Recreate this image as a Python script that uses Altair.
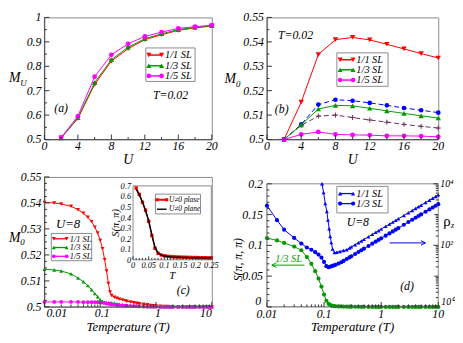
import altair as alt
import pandas as pd

FONT = "Liberation Serif"
RED = "#ff0000"
GREEN = "#009a00"
MAGENTA = "#ff00ff"
BLUE = "#0000ff"
PURPLE = "#6e2c5e"
FRAME = "#8a8a8a"
AXC = "#555555"
TICKC = "#333333"

W1, W2 = 170, 174
H1, H2 = 124, 132
D_TOP = 7

# ---------------- data: panels (a) and (b), T = 0.02 ----------------
SERIES_NAMES = ["1/1 SL", "1/3 SL", "1/5 SL"]
U_VALUES = [2, 4, 6, 8, 10, 12, 14, 16, 18, 20]
MU_11 = [0.507, 0.586, 0.726, 0.821, 0.872, 0.909, 0.929, 0.947, 0.957, 0.965]
MU_13 = [0.507, 0.589, 0.733, 0.827, 0.878, 0.913, 0.933, 0.950, 0.959, 0.966]
MU_15 = [0.508, 0.596, 0.757, 0.847, 0.892, 0.922, 0.940, 0.955, 0.962, 0.968]
M0B_11 = [0.5, 0.5153, 0.5348, 0.5409, 0.5418, 0.5408, 0.5390, 0.5371, 0.5352, 0.5334]
M0B_13 = [0.5, 0.5060, 0.5125, 0.5140, 0.5138, 0.5128, 0.5117, 0.5107, 0.5097, 0.5088]
M0B_15 = [0.5, 0.5021, 0.5031, 0.5021, 0.5019, 0.5018, 0.5015, 0.5015, 0.5014, 0.5011]
M0B_BLUE = [0.5, 0.5062, 0.5143, 0.5163, 0.5159, 0.5150, 0.5140, 0.5129, 0.5120, 0.5110]
M0B_PURPLE = [0.5, 0.5058, 0.5096, 0.5100, 0.5090, 0.5080, 0.5071, 0.5062, 0.5054, 0.5047]

# ---------------- data: panels (c) and (d), U = 8 ----------------
T_GRID = [0.01, 0.015, 0.02, 0.03, 0.04, 0.05, 0.06, 0.07, 0.08, 0.09,
          0.1, 0.11, 0.12, 0.13, 0.14, 0.15, 0.16,
          0.18, 0.2, 0.22, 0.25, 0.28, 0.3, 0.35, 0.4, 0.45, 0.5,
          0.6, 0.7, 0.8, 0.9, 1.0,
          1.2, 1.4, 1.6, 1.8, 2.0,
          2.5, 3.0, 3.5, 4.0, 4.5, 5.0,
          6.0, 7.0, 8.0, 9.0, 10.0]
M0C_11 = [0.5402, 0.5400, 0.5396, 0.5387, 0.5374, 0.5360, 0.5345, 0.5328, 0.5307, 0.5284,
          0.5256, 0.5224, 0.5182, 0.5138, 0.5090, 0.5057, 0.5044,
          0.5037, 0.5033, 0.5030, 0.5027, 0.5024, 0.5022, 0.5019, 0.5016, 0.5014, 0.5012,
          0.5010, 0.5008, 0.5006, 0.5005, 0.5004,
          0.5003, 0.5002, 0.5002, 0.5001, 0.5001,
          0.5001, 0.5, 0.5, 0.5, 0.5, 0.5,
          0.5, 0.5, 0.5, 0.5, 0.5]
M0C_13 = [0.5145, 0.5142, 0.5138, 0.5127, 0.5111, 0.5097, 0.5082, 0.5066, 0.5051, 0.5039,
          0.5027, 0.5021, 0.5018, 0.5017, 0.5016, 0.5016, 0.5015,
          0.5014, 0.5012, 0.5010, 0.5008, 0.5006, 0.5005, 0.5004, 0.5003, 0.5002, 0.5002,
          0.5001, 0.5001, 0.5001, 0.5001, 0.5001,
          0.5, 0.5, 0.5, 0.5, 0.5,
          0.5, 0.5, 0.5, 0.5, 0.5, 0.5,
          0.5, 0.5, 0.5, 0.5, 0.5]
M0C_15 = [0.5019, 0.5019, 0.5019, 0.5019, 0.5019, 0.5018, 0.5018, 0.5018, 0.5018, 0.5018,
          0.5017, 0.5016, 0.5015, 0.5013, 0.5012, 0.5011, 0.5010,
          0.5009, 0.5008, 0.5007, 0.5006, 0.5005, 0.5005, 0.5004, 0.5003, 0.5003, 0.5002,
          0.5002, 0.5001, 0.5001, 0.5001, 0.5001,
          0.5, 0.5, 0.5, 0.5, 0.5,
          0.5, 0.5, 0.5, 0.5, 0.5, 0.5,
          0.5, 0.5, 0.5, 0.5, 0.5]
S_13 = [0.112, 0.108, 0.104, 0.098, 0.092, 0.081, 0.070, 0.058, 0.046, 0.033,
        0.020, 0.010, 0.005, 0.0028, 0.0018, 0.0013, 0.0010,
        0.0008, 0.0006, 0.0005, 0.0004, 0.0003, 0.0003, 0.0002, 0.0002, 0.0001, 0.0001,
        0.0, 0.0, 0.0, 0.0, 0.0,
        0.0, 0.0, 0.0, 0.0, 0.0,
        0.0, 0.0, 0.0, 0.0, 0.0, 0.0,
        0.0, 0.0, 0.0, 0.0, 0.0]
RHO_13 = [1950, 660, 324, 174, 115, 85, 72, 60, 50, 40,
          29, 21, 19.5, 20.4, 21.4, 22.4, 23.4,
          25.7, 28.2, 31.3, 36.1, 40.9, 44.2, 52.5, 61, 69.5, 78.2,
          95.5, 113.5, 132, 150, 169,
          207, 245, 284, 324, 365,
          468, 573, 680, 789, 898, 1011,
          1237, 1469, 1703, 1941, 2188]
T_11 = [0.092, 0.098, 0.105, 0.112, 0.117, 0.123, 0.128, 0.134, 0.141, 0.152,
        0.167, 0.19, 0.218, 0.25,
        0.28, 0.3, 0.35, 0.4, 0.45, 0.5,
        0.6, 0.7, 0.8, 0.9, 1.0,
        1.2, 1.4, 1.6, 1.8, 2.0,
        2.5, 3.0, 3.5, 4.0, 4.5, 5.0,
        6.0, 7.0, 8.0, 9.0, 10.0]
RHO_11 = [10000, 5250, 2290, 1260, 660, 347, 195, 123, 76, 58,
          60, 63, 68, 72,
          82, 89, 105, 122, 139, 156,
          191, 227, 264, 300, 338,
          414, 491, 569, 649, 729,
          933, 1145, 1358, 1577, 1795, 2018,
          2472, 2931, 3397, 3873, 4365]

# inset of (c)
INSET_NAMES = ["U\u22600 plase", "U\u22600 plane"]
T_IN = [0.01, 0.02, 0.03, 0.04, 0.05, 0.06, 0.07, 0.08, 0.09, 0.1,
        0.11, 0.12, 0.13, 0.14, 0.15, 0.16, 0.17, 0.18, 0.19, 0.2,
        0.21, 0.22, 0.23, 0.24, 0.25]
S_IN_A = [0.68, 0.62, 0.545, 0.47, 0.365, 0.23, 0.11, 0.062, 0.046, 0.038,
          0.034, 0.031, 0.029, 0.027, 0.026, 0.025, 0.024, 0.023, 0.022, 0.022,
          0.021, 0.020, 0.020, 0.019, 0.019]
S_IN_B = [0.67, 0.615, 0.55, 0.465, 0.37, 0.24, 0.12, 0.065, 0.045, 0.036,
          0.031, 0.028, 0.026, 0.025, 0.024, 0.023, 0.022, 0.021, 0.021, 0.020,
          0.020, 0.019, 0.019, 0.018, 0.018]

# ---------------- tick positions / labels ----------------
U_TICKS = [0, 4, 8, 12, 16, 20]
U_MINOR = [2, 6, 10, 14, 18]
A_Y_TICKS = [0.5, 0.6, 0.7, 0.8, 0.9, 1.0]
A_Y_MINOR = [0.55, 0.65, 0.75, 0.85, 0.95]
M0_TICKS = [0.5, 0.51, 0.52, 0.53, 0.54, 0.55]
M0_MINOR_B = [0.505, 0.515, 0.525, 0.535, 0.545]
M0_MINOR_C = [0.5025, 0.505, 0.5075, 0.5125, 0.515, 0.5175, 0.5225, 0.525, 0.5275,
              0.5325, 0.535, 0.5375, 0.5425, 0.545, 0.5475]
LOG_TICKS = [0.01, 0.1, 1, 10]
LOG_MINOR = [0.02, 0.03, 0.04, 0.05, 0.06, 0.07, 0.08, 0.09,
             0.2, 0.3, 0.4, 0.5, 0.6, 0.7, 0.8, 0.9,
             2, 3, 4, 5, 6, 7, 8, 9]
S_TICKS = [0, 0.05, 0.1, 0.15, 0.2]
S_MINOR = [0.01, 0.02, 0.03, 0.04, 0.06, 0.07, 0.08, 0.09, 0.11, 0.12, 0.13, 0.14,
           0.16, 0.17, 0.18, 0.19]
RHO_TICKS = [1, 100, 10000]
RHO_LABELS = ["10\u2070", "10\u00b2", "10\u2074"]
RHO_MID = [10, 1000]
RHO_MINOR = [2, 3, 4, 5, 6, 7, 8, 9, 20, 30, 40, 50, 60, 70, 80, 90,
             200, 300, 400, 500, 600, 700, 800, 900,
             2000, 3000, 4000, 5000, 6000, 7000, 8000, 9000]
IN_X_TICKS = [0, 0.05, 0.1, 0.15, 0.2, 0.25]
IN_X_MINOR = [0.01, 0.02, 0.03, 0.04, 0.06, 0.07, 0.08, 0.09, 0.11, 0.12, 0.13, 0.14,
              0.16, 0.17, 0.18, 0.19, 0.21, 0.22, 0.23, 0.24]
IN_Y_TICKS = [0, 0.1, 0.2, 0.3, 0.4, 0.5, 0.6, 0.7]

PLUS = "M-1,0L1,0M0,-1L0,1"
ONE = pd.DataFrame({"a": [0]})


def text(s, x, y, size=12, color="black", align="center", style="italic", angle=None,
         baseline="middle"):
    kw = dict(align=align, baseline=baseline, fontSize=size, font=FONT,
              fontStyle=style, color=color)
    if angle is not None:
        kw["angle"] = angle
    return alt.Chart(pd.DataFrame({"t": [s]})).mark_text(**kw).encode(
        x=alt.value(x), y=alt.value(y), text="t:N")


def X(field, sc):
    return alt.X(field, scale=sc, axis=None)


def Y(field, sc):
    return alt.Y(field, scale=sc, axis=None)


def curve(xs, ys, xsc, ysc, color, shape=None, size=20, dash=None, filled=True, sw=1.0):
    df = pd.DataFrame({"x": xs, "y": ys})
    lk = {"color": color, "strokeWidth": sw}
    if dash:
        lk["strokeDash"] = dash
    out = [alt.Chart(df).mark_line(**lk).encode(x=X("x:Q", xsc), y=Y("y:Q", ysc))]
    if shape:
        pk = {"shape": shape, "size": size, "color": color, "filled": filled, "opacity": 1}
        if not filled:
            pk["strokeWidth"] = 1
        out.append(alt.Chart(df).mark_point(**pk).encode(x=X("x:Q", xsc), y=Y("y:Q", ysc)))
    return out


def xticks(vals, sc, length, ypos):
    return alt.Chart(pd.DataFrame({"v": vals})).mark_rule(color=TICKC, strokeWidth=1).encode(
        x=X("v:Q", sc), y=alt.value(ypos), y2=alt.value(ypos - length))


def yticks(vals, sc, length, xpos=0, direction=1):
    return alt.Chart(pd.DataFrame({"v": vals})).mark_rule(color=TICKC, strokeWidth=1).encode(
        y=Y("v:Q", sc), x=alt.value(xpos), x2=alt.value(xpos + direction * length))


def xlabels(vals, sc, ypos, size=12, align="center", dx=0):
    kw = dict(align=align, baseline="top", fontSize=size, font=FONT, fontStyle="italic",
              color="black")
    if dx:
        kw["dx"] = dx
    return alt.Chart(pd.DataFrame({"v": vals})).mark_text(**kw).encode(
        x=X("v:Q", sc), y=alt.value(ypos), text=alt.Text("v:Q", format="~g"))


def ylabels(vals, sc, xpos, size=12, align="right", dy=0, labels=None):
    kw = dict(align=align, baseline="middle", fontSize=size, font=FONT, fontStyle="italic",
              color="black")
    if dy:
        kw["dy"] = dy
    df = pd.DataFrame({"v": vals})
    if labels is None:
        t = alt.Text("v:Q", format="~g")
    else:
        df["t"] = labels
        t = alt.Text("t:N")
    return alt.Chart(df).mark_text(**kw).encode(y=Y("v:Q", sc), x=alt.value(xpos), text=t)


def hline(x1, x2, y, color=FRAME, sw=1):
    return alt.Chart(ONE).mark_rule(color=color, strokeWidth=sw).encode(
        x=alt.value(x1), x2=alt.value(x2), y=alt.value(y))


def vline(x, y1, y2, color=FRAME, sw=1):
    return alt.Chart(ONE).mark_rule(color=color, strokeWidth=sw).encode(
        x=alt.value(x), y=alt.value(y1), y2=alt.value(y2))


def legend(box, rows, seg, tx, fsize):
    x1, y1, x2, y2 = box
    layers = [alt.Chart(ONE).mark_rect(fill="white", stroke=FRAME, strokeWidth=1).encode(
        x=alt.value(x1), x2=alt.value(x2), y=alt.value(y1), y2=alt.value(y2))]
    for yy, name, color, shape, psize, sw in rows:
        layers.append(hline(seg[0], seg[1], yy, color, sw))
        if shape:
            for xx in seg:
                layers.append(alt.Chart(ONE).mark_point(shape=shape, size=psize, color=color,
                                                        filled=True, opacity=1).encode(
                    x=alt.value(xx), y=alt.value(yy)))
        layers.append(text(name, tx, yy, fsize, align="left"))
    return layers


def arrow(x1, x2, y, color):
    right = x2 > x1
    head = "M-1,-1L1,0L-1,1" if right else "M1,-1L-1,0L1,1"
    return [hline(x1, x2, y, color),
            alt.Chart(ONE).mark_point(shape=head, size=22, color=color, filled=False,
                                      strokeWidth=1, opacity=1).encode(
                x=alt.value(x2 - 2.3 if right else x2 + 2.3), y=alt.value(y))]


def frame_lines(w, h, top=0):
    return [vline(0, top, h, AXC), hline(0, w, h, AXC)]


# ================= panel (a) =================
xa = alt.Scale(domain=[0, 20], nice=False, zero=False)
ya = alt.Scale(domain=[0.5, 1.0], nice=False, zero=False)
la = curve(U_VALUES, MU_11, xa, ya, RED, "triangle-down", 30)
la += curve(U_VALUES, MU_13, xa, ya, GREEN, "triangle-up", 30)
la += curve(U_VALUES, MU_15, xa, ya, MAGENTA, "circle", 24)
la += frame_lines(W1, H1)
la += [xticks(U_MINOR, xa, 2.5, H1), xticks(U_TICKS, xa, 5, H1),
       yticks(A_Y_MINOR, ya, 2.5), yticks(A_Y_TICKS, ya, 5),
       xlabels(U_TICKS, xa, H1 + 2), ylabels(A_Y_TICKS, ya, -3),
       text("U", W1 / 2, H1 + 21, 14)]
la += legend((103, 31, 153, 65),
             [(38.2, SERIES_NAMES[0], RED, "triangle-down", 26, 1.5),
              (49.1, SERIES_NAMES[1], GREEN, "triangle-up", 26, 1.5),
              (59.4, SERIES_NAMES[2], MAGENTA, "circle", 22, 1.5)],
             (106, 119), 122.5, 10.5)
la += [text("T=0.02", 128, 79, 12), text("(a)", 17, 92, 12),
       text("M", -36, 62, 14, align="left"), text("U", -24.5, 67, 9, align="left")]
chart_a = alt.layer(*la).properties(width=W1, height=H1)

# ================= panel (b) =================
xb = alt.Scale(domain=[0, 20], nice=False, zero=False)
yb = alt.Scale(domain=[0.5, 0.55], nice=False, zero=False)
lb = curve(U_VALUES, M0B_11, xb, yb, RED, "triangle-down", 30)
lb += curve(U_VALUES, M0B_BLUE, xb, yb, BLUE, "circle", 22, dash=[5, 3])
lb += curve(U_VALUES, M0B_PURPLE, xb, yb, PURPLE, PLUS, 26, dash=[5, 3], filled=False)
lb += curve(U_VALUES, M0B_13, xb, yb, GREEN, "triangle-up", 30)
lb += curve(U_VALUES, M0B_15, xb, yb, MAGENTA, "circle", 24)
lb += frame_lines(W2, H1)
lb += [xticks(U_MINOR, xb, 2.5, H1), xticks(U_TICKS, xb, 5, H1),
       yticks(M0_MINOR_B, yb, 2.5), yticks(M0_TICKS, yb, 5),
       xlabels(U_TICKS, xb, H1 + 2), ylabels(M0_TICKS, yb, -3),
       text("U", W2 / 2, H1 + 21, 14)]
lb += legend((71, 36, 123, 70),
             [(43.0, SERIES_NAMES[0], RED, "triangle-down", 26, 1.5),
              (53.2, SERIES_NAMES[1], GREEN, "triangle-up", 26, 1.5),
              (63.6, SERIES_NAMES[2], MAGENTA, "circle", 22, 1.5)],
             (74.3, 87.5), 90.8, 10.5)
lb += [text("T=0.02", 29, 18, 12), text("(b)", 15, 93, 12),
       text("M", -43, 62.6, 14, align="left"), text("0", -31.5, 67.6, 9, align="left")]
chart_b = alt.layer(*lb).properties(width=W2, height=H1)

# ================= panel (c) =================
xc = alt.Scale(type="log", domain=[0.01, 10], nice=False)
yc = alt.Scale(domain=[0.5, 0.55], nice=False, zero=False)
lc = curve(T_GRID, M0C_11, xc, yc, RED, "triangle-down", 16)
lc += curve(T_GRID, M0C_13, xc, yc, GREEN, "triangle-up", 16)
lc += curve(T_GRID, M0C_15, xc, yc, MAGENTA, "circle", 14)
lc += frame_lines(W1, H2)
lc += [xticks(LOG_MINOR, xc, 2.5, H2), xticks(LOG_TICKS, xc, 5, H2),
       yticks(M0_MINOR_C, yc, 2.5), yticks(M0_TICKS, yc, 5),
       xlabels(LOG_TICKS[:1], xc, H2 + 1, align="left", dx=2),
       xlabels(LOG_TICKS[1:3], xc, H2 + 1, dx=2),
       xlabels(LOG_TICKS[3:], xc, H2 + 1, align="right"),
       ylabels(M0_TICKS, yc, -3),
       text("Temperature (T)", W1 / 2, H2 + 14, 13, baseline="top")]
lc += legend((7, 57.4, 48, 85.1),
             [(62.8, SERIES_NAMES[0], RED, "triangle-down", 16, 1.3),
              (71.7, SERIES_NAMES[1], GREEN, "triangle-up", 16, 1.3),
              (80.6, SERIES_NAMES[2], MAGENTA, "circle", 14, 1.3)],
             (9.5, 22.6), 25.8, 8.5)
lc += [text("U=8", 24, 47.8, 13), text("(c)", 141, 115, 12),
       text("M", -36, 62, 14, align="left"), text("0", -24.5, 66.5, 9, align="left")]
main_c = alt.layer(*lc)

IX0, IX1, IY0, IY1 = 90, 169.5, 84.2, 9.1
xi = alt.Scale(domain=[0, 0.25], range=[IX0, IX1], nice=False, zero=False)
yi = alt.Scale(domain=[0, 0.7], range=[IY0, IY1], nice=False, zero=False)
frame_df = pd.DataFrame({"x0": [0.0], "x1": [0.25], "y0": [0.0], "y1": [0.7]})
li = [alt.Chart(frame_df).mark_rect(fill="white", stroke=FRAME, strokeWidth=1).encode(
    x=X("x0:Q", xi), x2="x1:Q", y=Y("y0:Q", yi), y2="y1:Q")]
li += curve(T_IN, S_IN_A, xi, yi, RED, "square", 12, sw=1.2)
li += curve(T_IN, S_IN_B, xi, yi, "black", None, sw=1.4)
li += [xticks(IN_X_MINOR, xi, 2, IY0), xticks(IN_X_TICKS, xi, 3.5, IY0),
       xlabels(IN_X_TICKS, xi, IY0 + 1.5, size=8.5),
       ylabels(IN_Y_TICKS, yi, IX0 - 2, size=8.5),
       text("T", (IX0 + IX1) / 2, IY0 + 16, 11),
       text("S(\u03c0, \u03c0)", IX0 - 17, (IY0 + IY1) / 2, 10.5, angle=270)]
li += legend((112.7, 17.5, 158.5, 37.6),
             [(23.2, INSET_NAMES[0], RED, "square", 10, 2),
              (32.8, INSET_NAMES[1], "black", None, 0, 1.4)],
             (114.3, 124.1), 126.5, 7.5)
inset_c = alt.layer(*li)
chart_c = alt.layer(main_c, inset_c).resolve_scale(x="independent", y="independent").properties(
    width=W1, height=H2)

# ================= panel (d) =================
xd = alt.Scale(type="log", domain=[0.01, 10], nice=False)
yd = alt.Scale(domain=[0, 0.2], range=[H2, D_TOP], nice=False, zero=False)
rd = alt.Scale(type="log", domain=[1, 10000], range=[H2, D_TOP], nice=False)
ld = curve(T_GRID, S_13, xd, yd, GREEN, "circle", 18)
ld += [hline(0, W2, D_TOP), vline(W2, D_TOP, H2), vline(0, D_TOP, H2, AXC), hline(0, W2, H2, AXC)]
ld += [xticks(LOG_MINOR, xd, 2.5, H2), xticks(LOG_TICKS, xd, 5, H2),
       yticks(S_MINOR, yd, 2.5), yticks(S_TICKS, yd, 5),
       xlabels(LOG_TICKS, xd, H2 + 2),
       ylabels(S_TICKS[:1], yd, -6, dy=-6),
       ylabels(S_TICKS[1:], yd, -4),
       text("Temperature (T)", W2 / 2, H2 + 14, 13, baseline="top")]
ld += legend((71, 9.6, 123, 36.6),
             [(16.9, SERIES_NAMES[0], BLUE, "triangle-up", 18, 1.3),
              (27.1, SERIES_NAMES[1], BLUE, "circle", 18, 1.3)],
             (74.3, 87.5), 90.8, 10.5)
ld += arrow(38, 5, 89.6, GREEN) + arrow(124.6, 161, 67, BLUE)
ld += [text(SERIES_NAMES[1], 22, 83.5, 10.5, color=GREEN), text("U=8", 92.3, 46.2, 12),
       text("(d)", 142.3, 111.2, 12),
       text("S(\u03c0, \u03c0, \u03c0)", -29, 84, 12, angle=270),
       text("\u03c1", 179, 45, 15, align="left", style="normal"),
       text("z", 187, 50, 8, align="left")]
left_d = alt.layer(*ld)
rl = curve(T_GRID, RHO_13, xd, rd, BLUE, "circle", 18)
rl += curve(T_11, RHO_11, xd, rd, BLUE, "triangle-up", 16)
rl += [yticks(RHO_MINOR, rd, 2.5, W2, -1), yticks(RHO_MID, rd, 4, W2, -1),
       yticks(RHO_TICKS, rd, 5, W2, -1),
       ylabels(RHO_TICKS[:1], rd, W2 + 3, size=10, align="left", dy=-5, labels=RHO_LABELS[:1]),
       ylabels(RHO_TICKS[1:], rd, W2 + 2, size=10, align="left", labels=RHO_LABELS[1:])]
right_d = alt.layer(*rl)
chart_d = alt.layer(left_d, right_d).resolve_scale(y="independent").properties(
    width=W2, height=H2, view=alt.ViewBackground(strokeOpacity=0))

chart = alt.concat(chart_a, chart_b, chart_c, chart_d, columns=2,
                   spacing={"row": 38, "column": 56}, bounds="flush").properties(
    padding=0, background="white"
).configure_view(stroke=FRAME, strokeWidth=1)

chart.save("out.html", embed_options={"renderer": "svg", "actions": False})
